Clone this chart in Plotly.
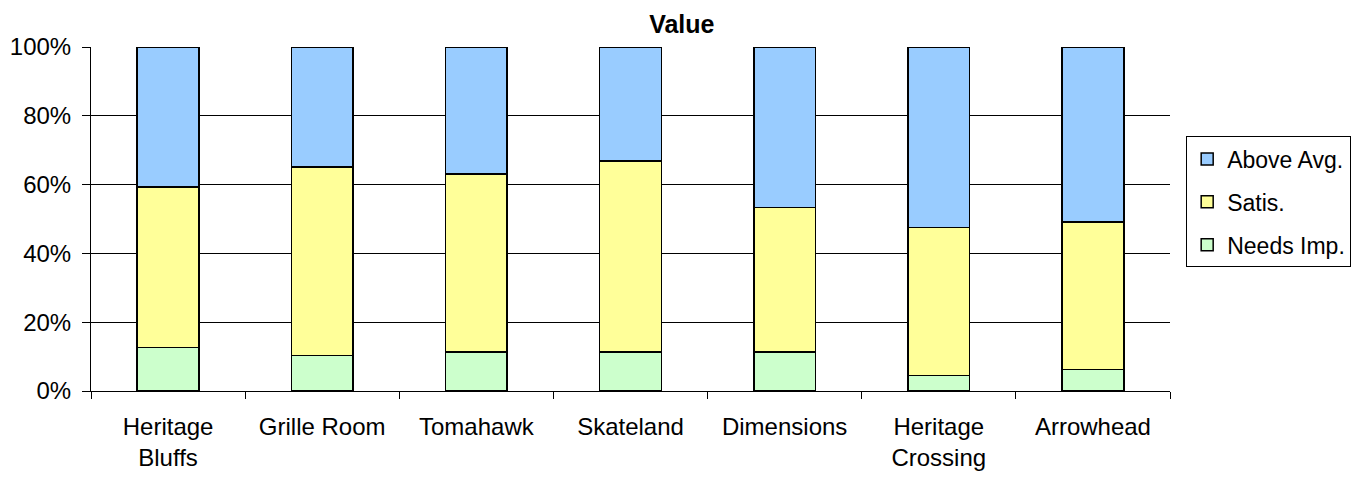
import plotly.graph_objects as go

categories = ["Heritage<br>Bluffs", "Grille Room", "Tomahawk", "Skateland",
              "Dimensions", "Heritage<br>Crossing", "Arrowhead"]
needs_imp = [12.6, 10.3, 11.3, 11.3, 11.3, 4.5, 6.2]
satis = [46.7, 54.8, 51.8, 55.5, 42.1, 43.1, 43.0]
above_avg = [40.7, 34.9, 36.9, 33.2, 46.6, 52.4, 50.8]

y_ticks = [0, 20, 40, 60, 80, 100]
y_tick_labels = ["0%", "20%", "40%", "60%", "80%", "100%"]

fig = go.Figure()
series = [("Needs Imp.", needs_imp, "#CCFFCC", 3),
          ("Satis.", satis, "#FFFF99", 2),
          ("Above Avg.", above_avg, "#99CCFF", 1)]
for name, vals, color, rank in series:
    fig.add_trace(go.Bar(
        x=categories, y=vals, name=name, legendgroup=name, legendrank=rank,
        marker=dict(color=color, line=dict(color="black", width=1.5)),
    ))

# page body has an 8px margin, so margins are shifted to compensate
fig.update_layout(
    barmode="stack",
    bargap=0.6,
    width=1364, height=479,
    margin=dict(l=83, r=202, t=39, b=96),
    paper_bgcolor="white",
    plot_bgcolor="white",
    font=dict(family="Liberation Sans, Arial", size=23, color="black"),
    title=dict(text="<b>Value</b>", x=0.494, xanchor="center", y=0.985, yanchor="top",
               font=dict(size=25)),
    legend=dict(
        traceorder="grouped", tracegroupgap=10,
        x=1.015, xanchor="left", y=0.74, yanchor="top",
        bordercolor="black", borderwidth=1,
        font=dict(size=23),
    ),
)
fig.update_yaxes(
    range=[0, 100], tickvals=y_ticks, ticktext=y_tick_labels,
    showgrid=True, gridcolor="black", gridwidth=1,
    showline=True, linecolor="black", linewidth=1,
    ticks="outside", ticklen=8, tickcolor="black",
    ticklabelstandoff=6, tickfont=dict(size=24), automargin=False,
)
fig.update_xaxes(
    showline=True, linecolor="black", linewidth=1,
    ticks="outside", tickson="boundaries", ticklen=7, tickcolor="black",
    tickangle=0, ticklabelstandoff=14, tickfont=dict(size=24), automargin=False,
)

fig.write_html("out.html")
